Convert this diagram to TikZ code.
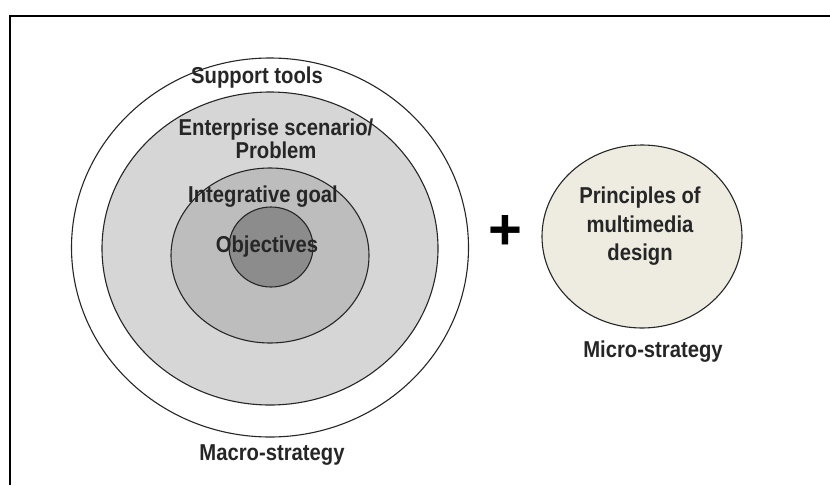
\documentclass[tikz,border=0pt]{standalone}
\usepackage{fontspec}
\setmainfont{Liberation Sans}
\newfontfamily\narrowsans[FakeStretch=0.88]{Liberation Sans}
\definecolor{scenariogray}{HTML}{D6D6D6}
\definecolor{goalgray}{HTML}{BDBDBD}
\definecolor{objgray}{HTML}{8C8C8C}
\definecolor{microbeige}{HTML}{EEECE1}
\begin{document}
\begin{tikzpicture}[x=1pt, y=-1pt,
  txt/.style={font=\narrowsans\bfseries\fontsize{23}{23}\selectfont, text=black!85, align=center, inner sep=0pt},
  ring/.style={draw=black!85, line width=1.1pt}]

\useasboundingbox ( 0, 0 ) rectangle ( 830, 485 );

% Frame
\draw [line width=2.3pt] ( 10, 485 ) -- ( 10, 16 ) -- ( 830, 16 );

% Macro-strategy rings
\filldraw [ring, fill=white] ( 270, 247.5 ) ellipse ( 198.5 and 189.5 );
\filldraw [ring, fill=scenariogray] ( 270, 248.5 ) ellipse ( 168 and 156.5 );
\filldraw [ring, fill=goalgray] ( 270, 255.5 ) ellipse ( 99 and 87.5 );
\filldraw [ring, fill=objgray] ( 271, 247 ) ellipse ( 42 and 40 );

% Micro-strategy
\filldraw [ring, fill=microbeige] ( 642, 236.5 ) ellipse ( 100 and 91.5 );

% Labels
\node [txt] (support) at ( 257, 78 ) {Support tools};
\node [txt] (scenario) at ( 276, 138.5 ) {Enterprise scenario/\\Problem};
\node [txt] (goal) at ( 263, 197 ) {Integrative goal};
\node [txt] (objectives) at ( 267, 247 ) {Objectives};
\node [txt] (macro) at ( 272, 455 ) {Macro-strategy};
\node [font=\fontsize{58}{60}\selectfont\bfseries, inner sep=0pt] (plus) at ( 505, 232 ) {+};
\node [txt, font=\narrowsans\bfseries\fontsize{23}{28.5}\selectfont] (principles) at ( 640, 226.5 ) {Principles of\\multimedia\\design};
\node [txt] (micro) at ( 653, 352 ) {Micro-strategy};

\end{tikzpicture}
\end{document}
